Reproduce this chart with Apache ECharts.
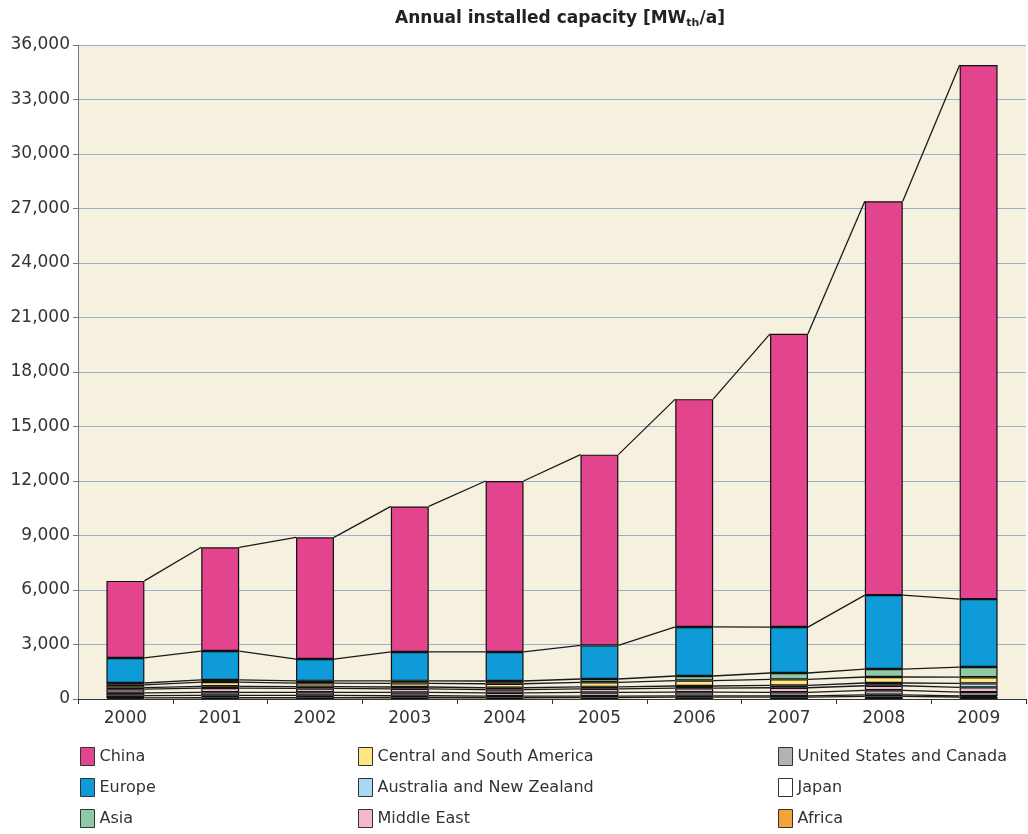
<!DOCTYPE html>
<html>
<head>
<meta charset="utf-8">
<script src="https://cdn.jsdelivr.net/npm/echarts@6/dist/echarts.min.js"></script>
<style>
html,body{margin:0;padding:0;background:#fff;}
#chart{width:1028px;height:834px;}
</style>
</head>
<body>
<div id="chart"></div>
<script>
// Data (MW_th per year)
const years = ['2000','2001','2002','2003','2004','2005','2006','2007','2008','2009'];
const yTicks = [0,3000,6000,9000,12000,15000,18000,21000,24000,27000,30000,33000,36000];

const africa   = [60, 70, 70, 70, 70, 80, 100, 100, 140, 110];
const japan    = [130, 130, 130, 110, 90, 80, 75, 70, 90, 60];
const usCanada = [150, 170, 170, 180, 180, 200, 200, 200, 250, 210];
const midEast  = [200, 230, 210, 200, 180, 200, 220, 250, 250, 260];
const ausNz    = [90, 100, 100, 100, 100, 110, 120, 130, 150, 220];
const csAmerica= [150, 230, 190, 200, 220, 250, 300, 330, 330, 340];
const asia     = [100, 120, 130, 140, 150, 180, 250, 350, 440, 560];
const europe   = [1380, 1590, 1200, 1590, 1600, 1850, 2700, 2530, 4070, 3740];
const china    = [4240, 5710, 6700, 8010, 9410, 10500, 12540, 16140, 21680, 29400];

// stacking order bottom -> top
const seriesDefs = [
  {name:'Africa', data:africa, color:'#f4a33a'},
  {name:'Japan', data:japan, color:'#ffffff'},
  {name:'United States and Canada', data:usCanada, color:'#b3b3b3'},
  {name:'Middle East', data:midEast, color:'#f3b8cf'},
  {name:'Australia and New Zealand', data:ausNz, color:'#a9d9f2'},
  {name:'Central and South America', data:csAmerica, color:'#ffe680'},
  {name:'Asia', data:asia, color:'#8ecaa4'},
  {name:'Europe', data:europe, color:'#0f9ad8'},
  {name:'China', data:china, color:'#e2458d'}
];

// cumulative levels for the series lines
const levels = [];
let run = years.map(()=>0);
seriesDefs.forEach(s=>{
  run = run.map((v,i)=>v + s.data[i]);
  levels.push(run.slice());
});

const BAR_FRAC = 0.4;
const barSeries = seriesDefs.map(s=>({
  name:s.name,
  type:'bar',
  stack:'total',
  barWidth:(BAR_FRAC*100)+'%',
  itemStyle:{color:s.color, borderColor:'#111', borderWidth:1.2},
  emphasis:{disabled:true},
  data:s.data,
  z:3
}));

const linesSeries = {
  type:'custom',
  name:'series lines',
  silent:true,
  z:2,
  data:years.slice(0,-1).map((y,i)=>[i,0]),
  renderItem:function(params, api){
    const i = api.value(0);
    const catW = api.size([1,0])[0];
    const half = catW*BAR_FRAC/2;
    const children = levels.map(lv=>{
      const a = api.coord([i, lv[i]]);
      const b = api.coord([i+1, lv[i+1]]);
      return {
        type:'line',
        shape:{x1:a[0]+half, y1:a[1], x2:b[0]-half, y2:b[1]},
        style:{stroke:'#1a1a1a', lineWidth:1.3}
      };
    });
    return {type:'group', children:children};
  }
};

const fontFam = 'DejaVu Sans, Verdana, sans-serif';
const legendBase = {
  orient:'vertical', top:747, height:100, padding:0,
  itemWidth:14, itemHeight:18, itemGap:12,
  icon:'rect',
  itemStyle:{borderColor:'#333', borderWidth:1},
  textStyle:{fontFamily:fontFam, fontSize:16, color:'#333'}
};

const chart = echarts.init(document.getElementById('chart'), null, {renderer:'canvas'});
chart.setOption({
  animation:false,
  backgroundColor:'#ffffff',
  title:{
    text:'{a|Annual installed capacity [MW}{s|th}{a|/a]}',
    left:555, top:3, textAlign:'center',
    textStyle:{
      rich:{
        a:{fontFamily:fontFam, fontSize:17, fontWeight:'bold', color:'#222', lineHeight:22},
        s:{fontFamily:fontFam, fontSize:11, fontWeight:'bold', color:'#222', lineHeight:22, padding:[8,0,0,0]}
      }
    }
  },
  legend:[
    Object.assign({}, legendBase, {left:80, data:['China','Europe','Asia']}),
    Object.assign({}, legendBase, {left:358, data:['Central and South America','Australia and New Zealand','Middle East']}),
    Object.assign({}, legendBase, {left:778, data:['United States and Canada','Japan','Africa']})
  ],
  grid:{left:78, right:2, top:45, bottom:135, show:true, backgroundColor:'#f6f0de', borderWidth:0},
  xAxis:{
    type:'category',
    data:years,
    axisLine:{lineStyle:{color:'#333', width:1}},
    axisTick:{show:true, length:5, lineStyle:{color:'#333'}},
    axisLabel:{fontFamily:fontFam, fontSize:17, color:'#333', margin:11}
  },
  yAxis:{
    type:'value',
    min:yTicks[0], max:yTicks[yTicks.length-1], interval:yTicks[1]-yTicks[0],
    axisLine:{show:true, lineStyle:{color:'#777', width:1}},
    axisTick:{show:true, length:5, lineStyle:{color:'#777'}},
    splitLine:{show:true, lineStyle:{color:'#98b0c8', width:1}},
    axisLabel:{fontFamily:fontFam, fontSize:17, color:'#333', margin:8,
      formatter:v=>v.toLocaleString('en-US')}
  },
  series:[...barSeries, linesSeries]
});
</script>
</body>
</html>
